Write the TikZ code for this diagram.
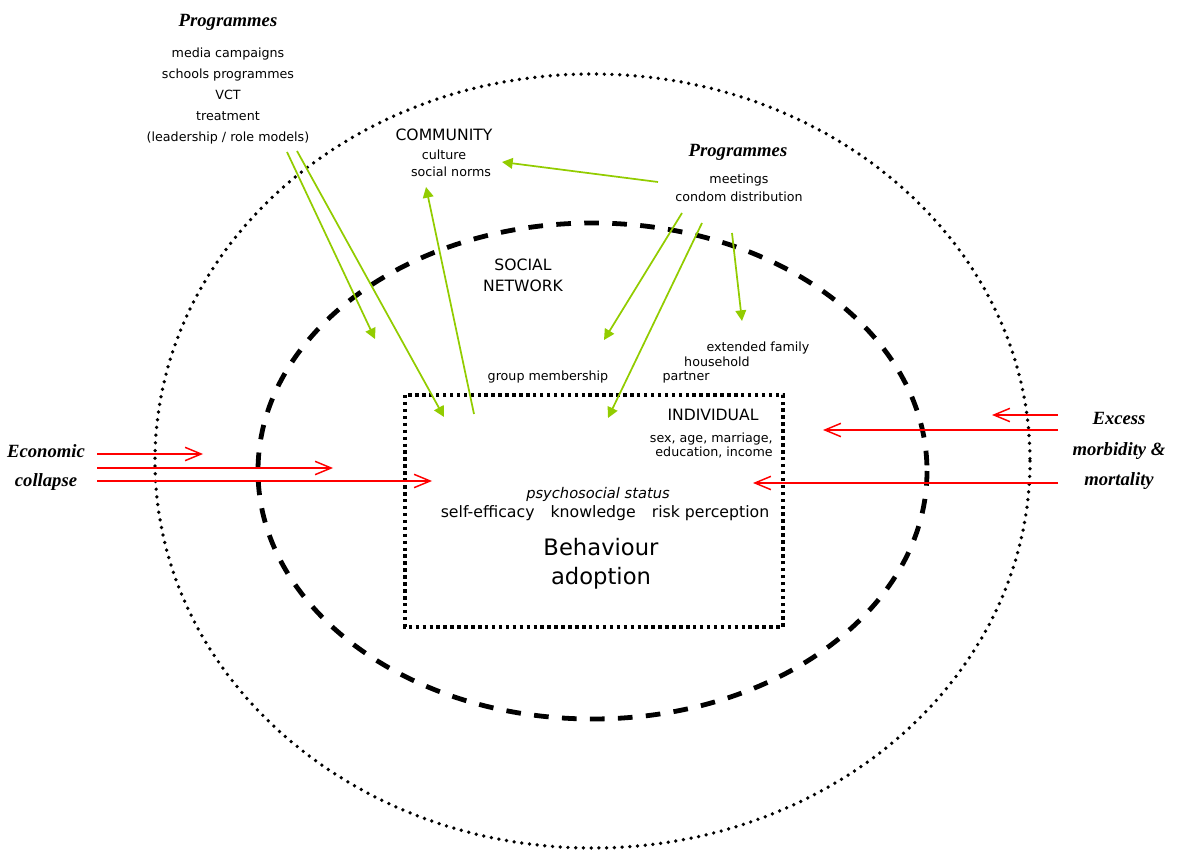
\documentclass[tikz,border=0pt]{standalone}
\usepackage{fontspec}
\setmainfont{DejaVu Sans}
\newfontfamily\handfont{Liberation Serif}
\usepackage{tikz}
\usetikzlibrary{arrows.meta}
\usetikzlibrary{positioning}
\definecolor{progreen}{RGB}{146,204,0}

\begin{document}
\begin{tikzpicture}[
  x=0.75pt, y=-0.75pt,
  every node/.style={inner sep=0pt},
  small/.style={font=\fontsize{9.5}{15.75}\selectfont, align=center},
  head/.style={font=\fontsize{11.7}{15.75}\selectfont, align=center},
  hand/.style={font=\handfont\bfseries\itshape\fontsize{14}{22}\selectfont, align=center},
  greenarrow/.style={draw=progreen, line width=1.3pt, -{Triangle[length=8pt,width=8pt]}},
  redarrow/.style={draw=red, line width=1.1pt, -{Straight Barb[length=12pt,width=10pt]}}
]
\useasboundingbox (0,0) rectangle (1182,852);

% levels
\draw[line width=2.8pt, line cap=round, dash pattern=on 0pt off 5.8pt]
  (592.5,461) ellipse [x radius=437.5, y radius=387];
\draw[line width=3.6pt, dash pattern=on 11pt off 10pt]
  (592.5,471) ellipse [x radius=334.5, y radius=248];
\draw[line width=2.8pt, dash pattern=on 2.6pt off 2.6pt] (405,395) rectangle (783,627);

% programmes
\node[hand] (progleft) at (228,22) {Programmes};
\node[small] (proglist) at (228,96.5) {media campaigns\\schools programmes\\VCT\\treatment\\(leadership / role models)};
\node[hand] (progright) at (738,152) {Programmes};
\node[small, font=\fontsize{9.5}{13.5}\selectfont] (progmeet) at (739,188) {meetings\\condom distribution};

% community
\node[head] (community) at (444,135) {COMMUNITY};
\node[small] (culture) at (444,155) {culture};
\node[small] (norms) at (451,172) {social norms};

% social network
\node[head] (network) at (523,275.5) {SOCIAL\\NETWORK};
\node[small] (family) at (758,348) {extended family};
\node[small] (household) at (717,362) {household};
\node[small] (partner) at (686,377) {partner};
\node[small] (group) at (548,377) {group membership};

% individual
\node[head] (individual) at (713,415) {INDIVIDUAL};
\node[small, align=right, anchor=east, font=\fontsize{9.5}{10.5}\selectfont] (demog) at (773,445) {sex, age, marriage,\\education, income};
\node[font=\itshape\fontsize{11}{13}\selectfont] (psycho) at (598,494) {psychosocial status};
\node[font=\fontsize{11.8}{14}\selectfont] (factors) at (605,513) {self-efficacy\hspace{12pt}knowledge\hspace{12pt}risk perception};
\node[font=\fontsize{17}{21.75}\selectfont, align=center] (behaviour) at (601,563.5) {Behaviour\\adoption};

% shocks
\node[hand, font=\handfont\bfseries\itshape\fontsize{14}{21.75}\selectfont] (econ) at (46,467.5) {Economic\\collapse};
\node[hand, font=\handfont\bfseries\itshape\fontsize{14}{23}\selectfont] (excess) at (1119,451) {Excess\\morbidity \&\\mortality};

% arrow ends
\coordinate (g1s) at (287,152); \coordinate (g1e) at (375,339);
\coordinate (g2s) at (297,151); \coordinate (g2e) at (444,417);
\coordinate (g3s) at (474,414); \coordinate (g3e) at (426,187);
\coordinate (g4s) at (658,182); \coordinate (g4e) at (502,162);
\coordinate (g5s) at (682,213); \coordinate (g5e) at (604,340);
\coordinate (g6s) at (702,223); \coordinate (g6e) at (608,418);
\coordinate (g7s) at (732,233); \coordinate (g7e) at (742,321);

\coordinate (r1s) at (97,454); \coordinate (r1e) at (203,454);
\coordinate (r2s) at (97,468); \coordinate (r2e) at (333,468);
\coordinate (r3s) at (97,481); \coordinate (r3e) at (432,481);
\coordinate (r4s) at (1058,415); \coordinate (r4e) at (992,415);
\coordinate (r5s) at (1058,430); \coordinate (r5e) at (823,430);
\coordinate (r6s) at (1058,483); \coordinate (r6e) at (753,483);

\foreach \i in {1,...,7}
  \draw[greenarrow] (g\i s) -- (g\i e);
\foreach \i in {1,...,6}
  \draw[redarrow] (r\i s) -- (r\i e);
\end{tikzpicture}
\end{document}
